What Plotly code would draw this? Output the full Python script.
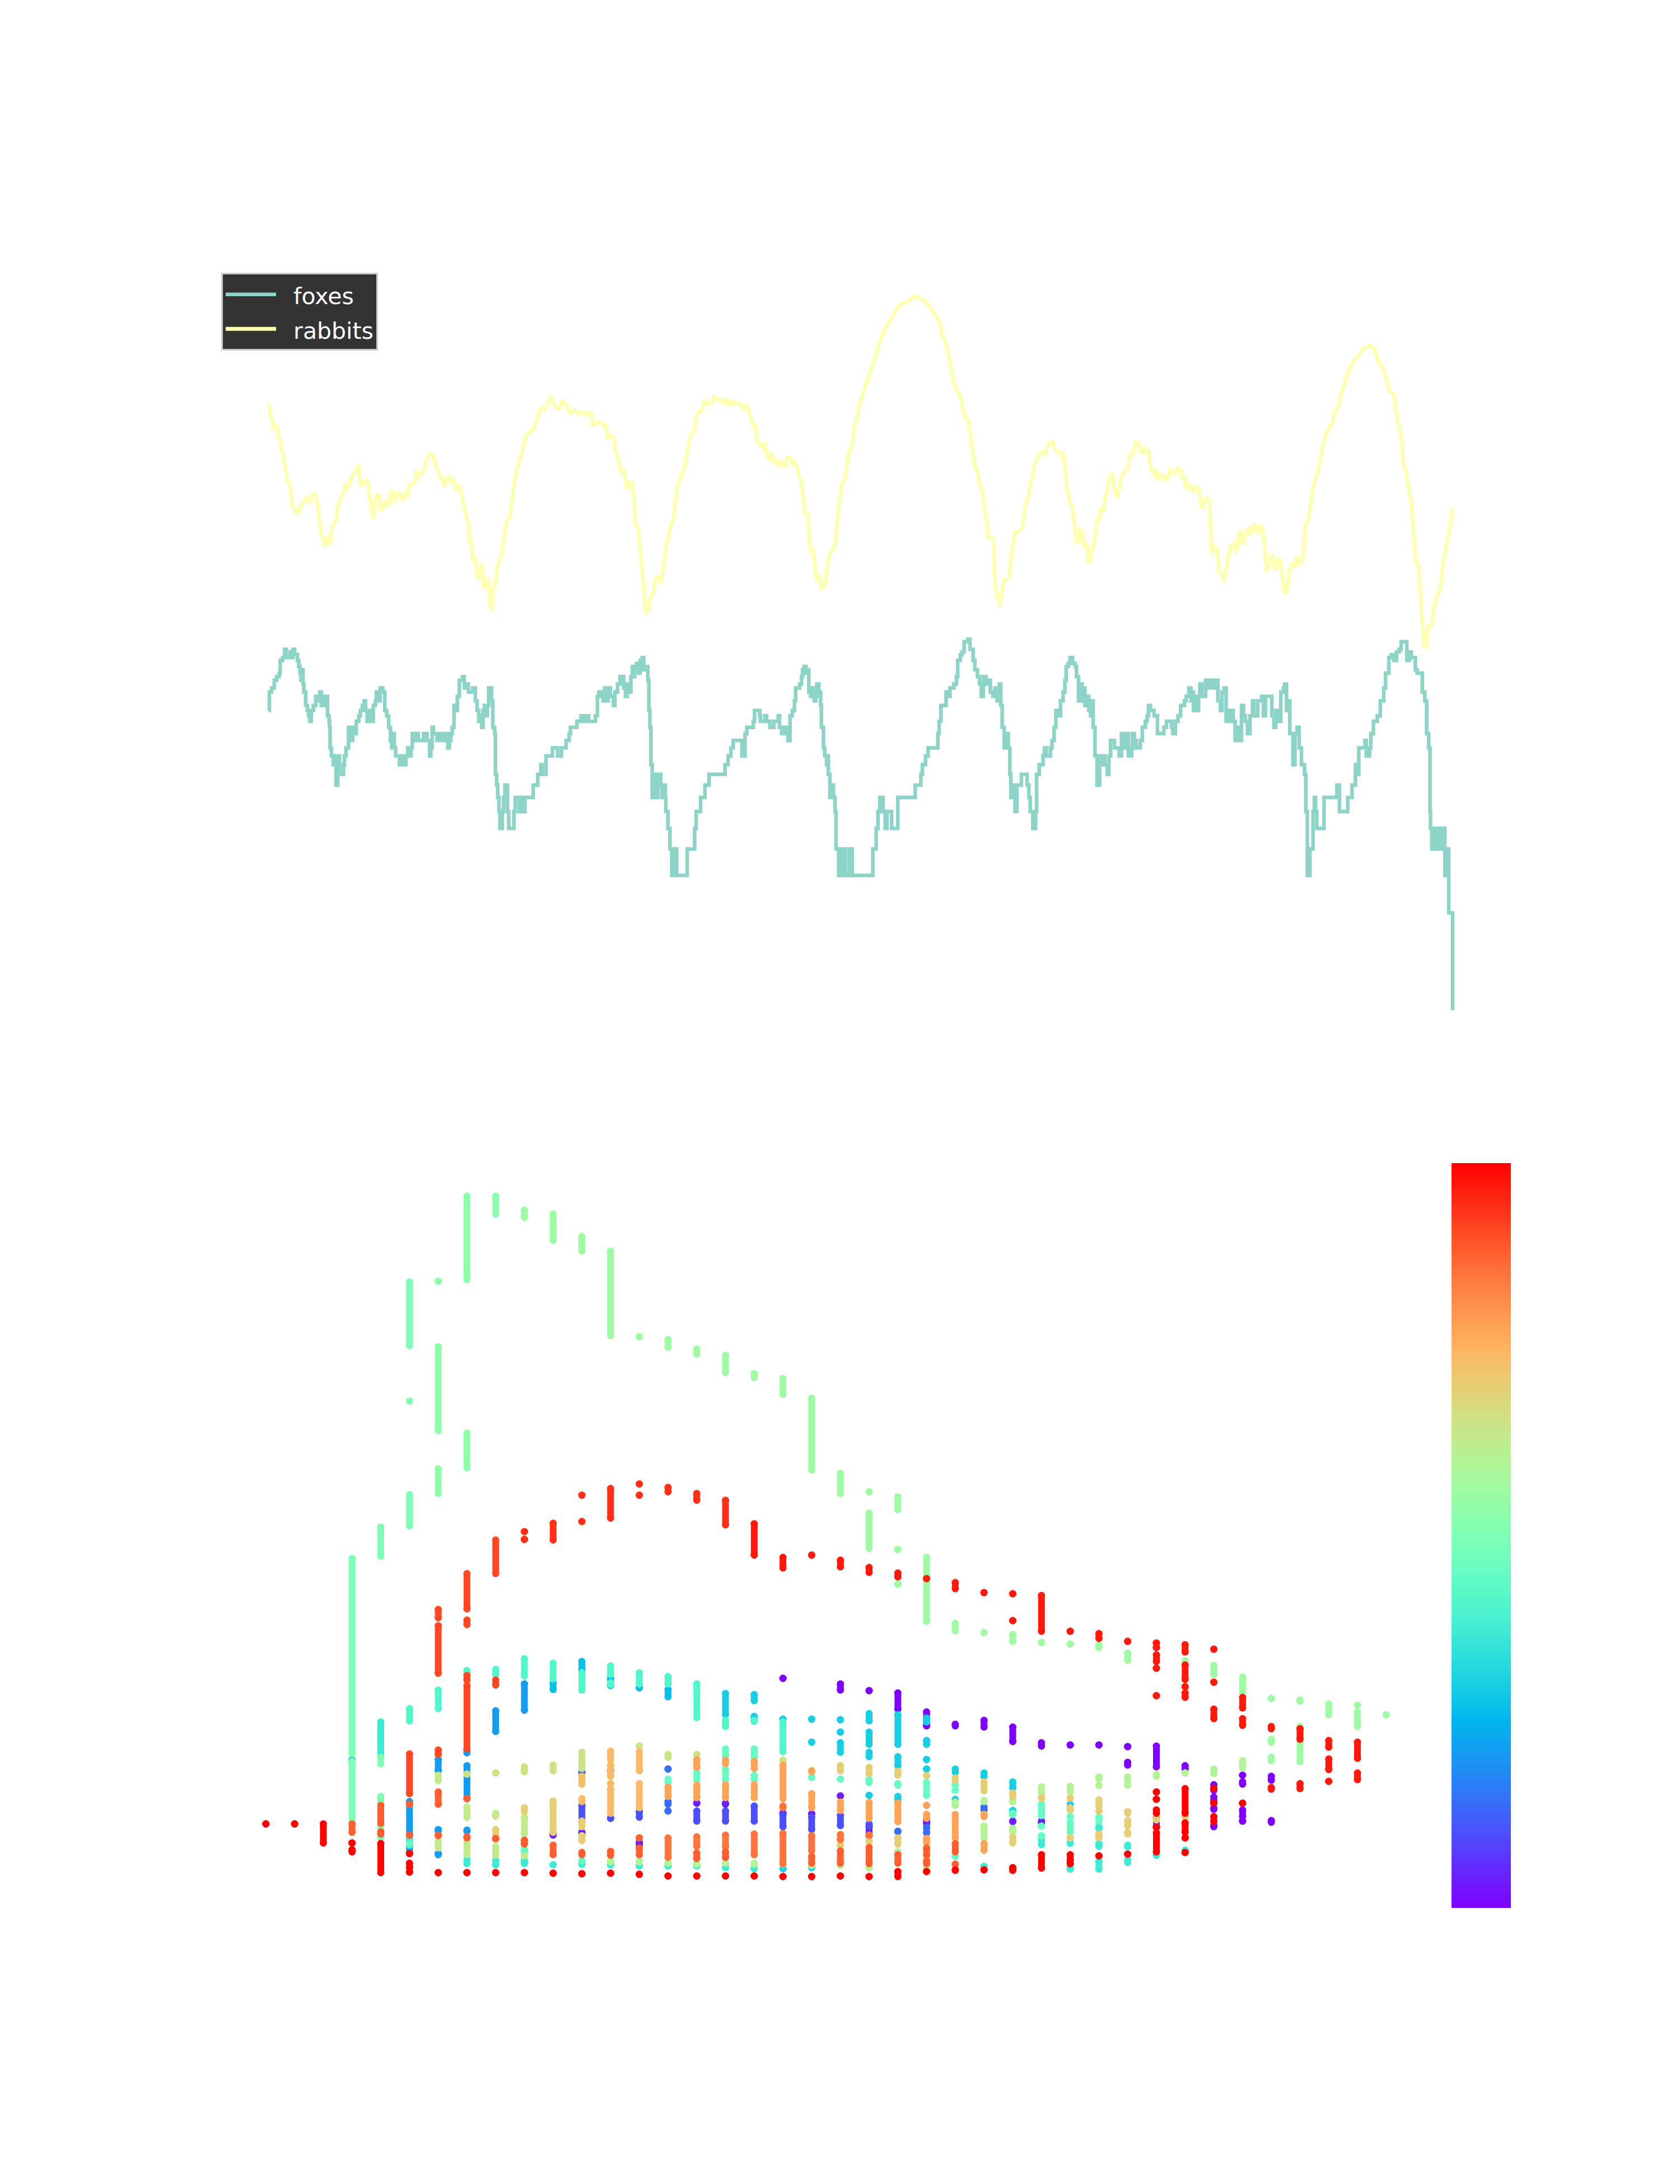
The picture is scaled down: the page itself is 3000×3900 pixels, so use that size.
import math
import plotly.graph_objects as go

# ---------- top chart: populations over time (log axis) ----------
SERIES_SECOND_START = 1546
SERIES_THIRD_START = 3093
LOG_UNIT = 824.6   # rabbit levels are log-abundance in 1/824.6 decades

foxes_first = [(22,18),(24,22),(33,23),(43,25),(52,26),(62,27),(66,31),(76,32),(83,35),(90,32),(105,34),(112,32),(116,35),(122,33),(133,31),(138,29),(143,27),(147,25),(150,28),(155,24),(158,22),(165,19),(172,18),(176,17),(181,16),(187,18),(195,19),(204,21),(212,20),(220,22),(226,19),(236,21),(250,17),(256,16),(258,15),(260,12),(265,11),(272,10),(278,11),(283,8),(290,11),(297,9),(312,10),(316,11),(322,12),(332,15),(338,13),(348,15),(357,14),(362,16),(372,17),(378,18),(386,19),(393,20),(398,18),(404,16),(416,18),(420,16),(428,19),(436,20),(440,22),(448,20),(455,23),(465,22),(473,18),(480,17),(488,15),(495,13),(500,12),(505,14),(510,12),(515,11),(530,10),(535,11),(548,10),(555,11),(562,12),(570,11),(575,12),(580,14),(590,13),(596,14),(603,13),(623,14),(637,13),(647,11),(652,12),(657,15),(662,14),(676,13),(682,14),(690,13),(695,14),(703,13),(708,14),(718,12),(724,13),(730,14),(735,15),(742,19),(750,18),(755,21),(763,25),(775,26),(782,23),(795,24),(798,22),(815,23),(825,20),(832,18),(838,16),(845,17),(850,15),(855,18),(860,19),(866,17),(872,19),(877,23),(888,20),(893,15),(900,14),(903,9),(908,8),(912,7),(917,6),(921,5),(930,6),(935,7),(940,8),(950,6),(955,5),(975,6),(980,7),(995,6),(1000,7),(1005,6),(1018,7),(1050,8),(1068,9),(1080,10),(1085,9),(1100,11),(1125,12),(1145,11),(1160,12),(1178,13),(1190,14),(1195,15),(1220,16),(1236,17),(1243,16),(1250,17),(1265,16),(1292,17),(1300,21),(1306,22),(1316,21),(1322,20),(1328,23),(1335,20),(1342,23),(1350,21),(1362,19),(1368,22),(1378,24),(1388,26),(1402,23),(1409,21),(1415,24),(1422,22),(1430,26),(1436,29),(1441,26),(1445,29),(1452,30),(1460,27),(1466,31),(1474,32),(1480,28),(1487,29),(1496,25),(1500,18),(1504,15),(1508,10),(1513,7),(1520,9),(1528,7),(1535,9),(1546,8)]
foxes_second = [(5,7),(10,8),(18,7),(20,6),(28,5),(36,4),(43,3),(55,4),(62,3),(103,4),(132,5),(138,6),(155,7),(172,8),(188,9),(250,10),(262,11),(273,12),(282,13),(316,11),(328,14),(335,15),(360,16),(365,18),(385,17),(388,16),(405,17),(412,16),(425,15),(440,16),(457,17),(462,15),(470,14),(482,15),(495,13),(503,17),(512,18),(520,20),(525,23),(540,24),(548,26),(552,28),(558,29),(565,27),(570,28),(576,22),(583,21),(590,23),(597,20),(603,21),(607,24),(615,22),(622,19),(625,15),(633,12),(638,11),(645,10),(650,11),(652,9),(658,7),(665,8),(672,7),(678,6),(682,4),(692,3),(706,4),(718,3),(733,4),(745,3),(825,4),(838,5),(845,6),(852,7),(865,6),(873,5),(880,6),(898,5),(922,7),(990,8),(1012,9),(1018,10),(1030,11),(1040,12),(1078,14),(1083,16),(1090,19),(1110,22),(1120,21),(1125,23),(1140,24),(1150,26),(1155,31),(1165,33),(1172,34),(1180,38),(1195,39),(1203,35),(1215,31),(1222,28),(1232,26),(1240,24),(1247,21),(1255,26),(1265,24),(1275,25),(1282,22),(1292,21),(1300,23),(1308,20),(1317,24),(1323,19),(1328,15),(1336,12),(1342,14),(1352,12),(1358,9),(1362,7),(1368,8),(1378,6),(1385,8),(1403,9),(1425,8),(1432,7),(1437,6),(1447,5),(1458,6),(1462,9),(1472,10),(1487,11),(1493,12),(1500,11),(1516,12),(1522,13),(1530,15),(1537,18),(1550,17)]
foxes_third = [(8,20),(18,22),(25,25),(30,29),(38,30),(45,32),(55,30),(65,29),(70,26),(78,20),(85,24),(92,20),(98,23),(103,19),(110,21),(118,18),(125,17),(130,20),(135,15),(142,11),(150,8),(160,11),(165,10),(172,11),(180,10),(190,9),(196,11),(203,13),(218,12),(236,11),(245,14),(255,12),(262,14),(272,11),(285,12),(288,14),(295,13),(302,12),(318,13),(326,15),(338,16),(345,17),(350,19),(358,18),(372,17),(385,14),(410,15),(420,16),(440,15),(445,14),(455,16),(465,17),(475,19),(490,20),(497,21),(507,23),(515,20),(522,22),(525,18),(530,21),(538,18),(545,21),(550,24),(557,21),(572,25),(580,23),(585,25),(592,23),(598,25),(605,23),(612,25),(620,20),(630,18),(636,22),(644,23),(652,16),(660,18),(665,16),(672,18),(680,16),(687,13),(695,15),(707,13),(712,19),(720,17),(727,16),(735,14),(745,17),(755,20),(760,17),(775,20),(790,21),(797,17),(805,21),(830,17),(838,15),(845,18),(855,16),(865,22),(875,23),(880,24),(887,18),(897,20),(900,14),(912,10),(920,14),(928,15),(936,12),(945,10),(957,9),(962,6),(968,3),(978,4),(990,6),(995,7),(1000,6),(1005,5),(1033,7),(1083,8),(1093,6),(1125,7),(1142,8),(1155,10),(1160,9),(1168,12),(1192,13),(1197,11),(1210,12),(1215,14),(1225,16),(1240,17),(1252,20),(1265,23),(1272,27),(1285,32),(1295,33),(1305,31),(1315,34),(1325,35),(1333,38),(1355,31),(1365,34),(1372,32),(1388,28),(1395,27),(1415,22),(1425,20),(1432,14),(1440,12),(1445,6),(1447,5),(1452,4),(1460,5),(1473,4),(1480,5),(1490,4),(1500,5),(1503,3),(1510,4),(1518,2),(1533,0)]

rabbits_first = [(22,2229),(25,2199),(30,2179),(36,2154),(40,2131),(47,2134),(50,2149),(55,2129),(60,2099),(68,2084),(72,2044),(80,2019),(85,1979),(92,1949),(97,1914),(103,1919),(108,1874),(113,1829),(120,1824),(125,1814),(128,1799),(135,1809),(142,1814),(148,1834),(158,1849),(165,1859),(172,1867),(177,1839),(185,1859),(193,1876),(203,1877),(210,1849),(215,1809),(220,1774),(225,1724),(232,1709),(240,1669),(245,1699),(252,1706),(262,1681),(268,1749),(275,1759),(283,1774),(290,1824),(300,1859),(310,1874),(318,1909),(328,1901),(340,1929),(350,1954),(360,1964),(372,1989),(378,1919),(382,1906),(392,1924),(400,1931),(408,1919),(413,1859),(420,1849),(425,1784),(430,1789),(436,1859),(445,1874),(452,1869),(458,1811),(470,1829),(480,1854),(490,1829),(497,1891),(505,1879),(515,1844),(522,1879),(532,1881),(542,1849),(552,1884),(560,1864),(568,1911),(580,1914),(592,1929),(598,1971),(607,1949),(622,1959),(630,1989),(638,2019),(652,2031),(663,2024),(672,1989),(682,1954),(690,1934),(698,1934),(705,1904),(712,1934),(720,1944),(728,1924),(740,1939),(752,1889),(762,1914),(770,1879),(778,1844),(785,1824),(792,1779),(800,1749),(802,1694),(810,1689),(815,1614),(825,1629),(832,1559),(842,1544),(850,1609),(858,1509),(866,1519),(875,1551),(882,1459),(886,1424),(892,1444),(896,1509),(905,1544),(912,1599),(925,1634),(933,1689),(940,1744),(948,1774),(960,1784),(968,1859),(978,1929),(990,1989),(1005,2029),(1015,2074),(1025,2109),(1038,2121),(1050,2124),(1060,2159),(1070,2179),(1080,2211),(1095,2204),(1107,2234),(1120,2251),(1130,2229),(1140,2212),(1152,2209),(1160,2237),(1170,2239),(1180,2219),(1195,2191),(1213,2204),(1225,2189),(1245,2194),(1255,2184),(1262,2194),(1275,2192),(1282,2146),(1295,2151),(1310,2157),(1320,2144),(1330,2146),(1340,2097),(1350,2104),(1364,2097),(1370,2049),(1382,2009),(1392,1964),(1403,1969),(1415,1894),(1425,1924),(1433,1924),(1442,1864),(1448,1759),(1458,1744),(1465,1669),(1473,1599),(1480,1519),(1484,1439),(1490,1417),(1500,1424),(1505,1474),(1518,1489),(1525,1544),(1535,1559),(1545,1529),(1555,1574),(1560,1629),(1568,1689)]
rabbits_second = [(25,1679),(35,1739),(48,1779),(55,1839),(65,1899),(80,1949),(95,1989),(105,2049),(118,2109),(130,2119),(140,2179),(150,2199),(162,2204),(170,2239),(185,2227),(200,2234),(208,2254),(222,2247),(242,2231),(252,2249),(262,2219),(275,2244),(285,2224),(300,2234),(315,2219),(322,2201),(333,2227),(345,2194),(358,2144),(368,2144),(375,2084),(385,2069),(395,2059),(405,2079),(412,2029),(423,2007),(432,2037),(445,1994),(458,2009),(462,1984),(472,2001),(485,1981),(492,2019),(505,2014),(512,1987),(520,2001),(530,1984),(538,1947),(548,1919),(555,1859),(562,1804),(572,1794),(578,1724),(583,1649),(592,1664),(600,1599),(608,1539),(618,1564),(625,1511),(632,1511),(640,1529),(648,1589),(655,1639),(665,1654),(678,1679),(685,1759),(695,1829),(705,1919),(718,1939),(730,2029),(745,2069),(752,2134),(765,2179),(775,2229),(790,2279),(805,2319),(820,2369),(835,2409),(850,2464),(865,2504),(885,2539),(905,2574),(925,2609),(945,2619),(965,2627),(985,2647),(1000,2641),(1020,2634),(1045,2609),(1065,2574),(1080,2554),(1095,2499),(1110,2459),(1120,2419),(1130,2369),(1138,2314),(1150,2289),(1165,2259),(1170,2229),(1182,2179),(1195,2164),(1205,2109),(1212,2049),(1222,1989),(1235,1949),(1240,1919),(1252,1884),(1260,1809),(1268,1774),(1272,1709),(1285,1709),(1295,1699),(1298,1564),(1305,1479),(1315,1484),(1320,1441),(1328,1509),(1338,1544),(1355,1549),(1365,1649),(1380,1729),(1395,1734),(1408,1749),(1415,1809),(1430,1869),(1445,1939),(1455,1994),(1470,2029),(1485,2039),(1495,2029),(1505,2064),(1522,2081),(1535,2049)]
rabbits_third = [(0,2044),(10,2026),(17,2037),(25,1989),(32,1909),(37,1874),(45,1844),(55,1829),(60,1764),(68,1699),(78,1684),(85,1739),(92,1734),(100,1669),(110,1689),(118,1604),(128,1644),(140,1689),(150,1779),(160,1779),(165,1824),(175,1809),(182,1859),(195,1919),(208,1959),(217,1899),(230,1864),(238,1919),(245,1949),(258,1964),(268,1979),(278,2029),(290,2029),(300,2077),(312,2074),(320,2044),(328,2031),(335,2054),(350,2044),(360,1979),(372,1949),(378,1974),(385,1929),(400,1959),(412,1934),(422,1934),(435,1971),(450,1954),(465,1979),(478,1964),(480,1939),(492,1941),(497,1894),(512,1914),(525,1884),(538,1904),(548,1894),(550,1859),(560,1819),(568,1854),(578,1861),(587,1854),(592,1759),(597,1644),(610,1669),(618,1659),(625,1574),(638,1564),(645,1534),(652,1589),(665,1649),(670,1674),(683,1684),(692,1644),(697,1699),(705,1737),(715,1684),(722,1684),(730,1744),(738,1714),(745,1751),(752,1724),(765,1764),(777,1719),(790,1757),(798,1724),(803,1659),(810,1574),(820,1604),(830,1644),(843,1579),(855,1624),(863,1619),(868,1569),(878,1489),(890,1504),(898,1584),(912,1609),(920,1589),(926,1634),(940,1604),(952,1624),(960,1759),(972,1774),(985,1859),(992,1909),(1005,1949),(1015,1989),(1027,2059),(1040,2109),(1052,2134),(1065,2149),(1075,2199),(1090,2219),(1100,2269),(1115,2319),(1130,2359),(1145,2389),(1160,2407),(1175,2429),(1192,2447),(1215,2454),(1230,2439),(1245,2389),(1260,2374),(1275,2329),(1285,2279),(1305,2264),(1313,2199),(1325,2139),(1335,2089),(1342,1989),(1352,1964),(1360,1909),(1372,1849),(1380,1749),(1390,1609),(1400,1599),(1408,1469),(1415,1399),(1423,1279),(1430,1284),(1440,1364),(1452,1364),(1458,1424),(1470,1479),(1485,1504),(1495,1599),(1505,1649),(1520,1729),(1530,1799),(1535,1821)]

# ---------- bottom chart: runs of points per column, as (column, low, high) ----------
purple = [(18,410,410),(20,389,400),(21,388,388),(22,355,384),(23,325,350),(24,325,328),(25,323,335),(26,297,323),(27,289,295),(28,291,291),(29,291,291),(30,288,288),(30,255,260),(31,252,289),(32,248,254),(33,210,220),(33,190,198),(33,176,178),(33,145,147),(34,237,237),(34,221,225),(34,163,175),(34,155,155),(35,228,235),(35,153,156)]
deep_violet = [(10,130,132),(11,132,135),(13,112,117),(15,187,187),(16,185,187),(18,169,169),(19,168,168),(20,200,200),(21,129,146),(26,154,155),(27,152,155),(31,144,160),(23,150,155)]
violet = [(11,153,183),(12,160,160),(13,162,172),(15,155,173),(16,155,173),(17,155,182),(18,145,165),(19,140,162),(20,147,165),(21,146,150)]
royal = [(11,242,242),(12,245,245),(14,248,248),(14,185,190),(14,173,173),(22,136,137),(23,134,144),(25,175,180)]
azure = [(5,99,190),(6,245,265),(6,137,140),(6,95,97),(7,277,282),(7,195,254),(7,137,139),(8,315,352),(9,353,400)]
sky = [(10,390,402),(11,425,440),(12,397,410),(13,393,393),(14,377,390)]
cyan = [(3,258,265),(16,345,383),(17,370,381),(17,340,342),(18,337,337),(18,70,70),(19,337,337),(19,296,296),(19,72,72),(20,336,336),(20,314,314),(20,278,295),(21,334,347),(21,292,314),(21,270,278),(21,201,201),(22,292,345),(22,254,270),(22,192,199),(23,332,339),(23,292,299),(23,265,265),(23,248,248),(24,242,248),(24,184,194),(25,235,241),(26,214,225),(26,167,174),(27,165,184),(28,175,185)]
teal = [(4,275,332),(5,112,122),(7,79,87),(8,77,85),(9,79,85),(10,77,77),(11,78,78),(12,77,77),(13,75,75),(14,75,75),(15,75,75),(16,72,72),(17,70,70),(25,74,74),(27,113,123),(28,115,117),(28,69,72),(29,142,145),(29,110,115),(29,69,83),(30,109,112),(30,81,85),(31,94,94),(32,103,103)]
aqua = [(5,334,356),(6,356,389),(7,419,424),(8,417,426),(9,414,445),(10,409,437),(11,389,420),(12,417,432),(12,399,402),(13,400,420),(14,400,413),(15,340,400),(16,324,335),(17,333,335),(18,279,332)]
mint = [(5,115,115),(9,100,104),(11,84,84),(14,225,230),(15,229,242),(16,272,284),(16,229,248),(17,269,284),(17,229,237),(19,233,233),(20,230,230),(21,224,229),(22,219,222),(23,201,224),(24,220,220),(24,210,210),(24,92,92),(26,167,169),(27,165,184),(27,146,146),(27,129,129),(28,163,163),(28,135,153),(29,155,162)]
seafoam = [(3,276,624),(3,152,262),(4,628,680),(4,257,269),(4,125,199),(5,1004,1118),(5,905,905),(5,682,738)]
spring = [(6,852,1002),(6,1119,1119),(6,740,784),(7,1122,1271),(7,786,848),(8,1239,1271)]
pale_green = [(9,1233,1246),(10,1192,1239),(11,1173,1199),(12,1022,1173),(13,1020,1020),(14,1001,1015),(15,989,998),(16,956,987),(17,947,954),(18,917,945),(19,782,910),(20,740,776),(21,743,743),(21,642,705),(22,711,734),(22,640,640),(22,578,578),(23,512,626),(24,495,508),(25,492,492),(26,476,488),(27,474,474),(28,471,471),(29,465,469),(30,442,455),(32,441,441),(33,417,433),(34,385,412),(35,374,374),(35,296,301),(35,263,269),(36,369,371),(36,261,324),(37,345,364),(38,362,362),(38,324,350),(39,345,345)]
lime = [(24,183,189),(25,190,192),(25,125,146),(26,189,192),(26,136,142),(27,205,216),(28,207,217),(29,230,234),(29,219,219),(30,219,234),(31,235,238),(32,241,241),(33,240,248),(34,250,263),(12,82,84),(13,82,84),(14,80,80),(15,78,78),(16,80,80),(17,78,80),(18,78,78),(19,76,76),(20,76,76),(21,72,72),(22,100,100),(23,72,72)]
pear = [(6,107,119),(6,227,237),(7,95,117),(7,162,180),(8,94,109),(8,164,169),(9,93,93),(9,132,162)]
khaki = [(7,239,239),(8,241,241),(9,243,252),(10,245,255),(11,249,278),(13,289,289),(14,269,274),(15,274,274),(18,262,264)]
tan = [(8,122,140),(9,172,179),(10,135,191),(11,120,129),(11,145,155),(20,112,113),(20,245,254),(21,240,251),(21,117,119),(22,237,244),(22,114,125),(23,236,236),(24,228,232),(25,209,225),(26,199,205),(26,116,126),(27,195,197),(28,196,196),(28,175,179),(28,125,125),(29,182,193),(29,173,173),(29,125,132),(30,169,172),(30,147,156),(30,132,135),(31,157,159),(32,163,163)]
sand = [(11,221,235),(11,190,195),(12,265,280),(12,235,255),(12,222,222),(12,169,212),(13,245,279),(13,179,222)]
apricot = [(14,199,216),(15,251,265),(15,197,219),(16,258,264),(16,197,220),(17,249,262),(17,197,220),(18,195,255),(19,243,245),(19,179,204),(20,174,189),(21,160,188),(22,154,187),(23,183,183),(23,160,167),(23,117,124),(24,125,167),(25,163,167),(25,103,115)]
coral = [(14,90,125),(15,110,127),(16,109,130),(17,95,132),(18,79,133),(18,179,182),(19,102,129),(20,122,131),(21,130,130)]
orange = [(3,135,150),(4,151,183),(4,132,136),(5,185,185),(5,130,130),(6,185,207),(6,129,130),(7,195,195),(7,125,127),(8,124,124),(9,114,121),(10,95,112),(11,95,99),(12,94,101),(13,95,107),(13,125,125),(15,88,98),(16,90,100),(19,80,92),(20,80,102),(21,79,108),(22,80,95),(23,94,107),(23,79,84),(24,100,115),(24,78,78)]
vermilion = [(5,204,275),(6,274,282),(6,518,533),(6,419,504),(7,284,397),(7,407,415),(7,534,597),(7,506,514),(8,398,407),(8,597,657)]
scarlet = [(9,672,672),(9,658,658),(10,657,687),(11,737,737),(11,690,690),(12,696,749),(13,757,757),(13,737,737),(14,743,751),(15,728,740),(16,684,728)]
crimson = [(17,630,686),(18,607,626),(19,630,630),(20,609,621),(21,599,608),(22,591,598),(23,588,588),(24,570,581),(25,563,563),(26,561,561),(26,513,513),(27,494,558),(28,494,494),(29,481,490),(30,476,476),(31,473,473),(31,465,465),(31,440,452),(31,428,428),(31,379,379),(32,457,470),(32,408,434),(32,395,395),(32,376,384),(33,462,462),(33,403,403),(33,338,355),(34,357,376),(34,326,338),(35,320,324),(35,212,215),(36,301,320),(36,213,222),(37,287,299),(37,247,266),(37,226,226),(38,267,296),(38,229,241)]
red = [(0,150,150),(1,150,150),(2,116,150),(3,116,116),(3,100,104),(4,63,115),(5,97,97),(5,72,80),(5,64,64),(6,63,63),(7,63,63),(8,63,63),(9,63,63),(10,62,62),(11,61,61),(12,62,62),(13,60,60),(14,57,57),(15,57,57),(16,57,57),(17,57,57),(18,56,56),(19,56,56),(20,57,57),(21,56,56),(22,56,65),(23,65,65),(24,67,68),(25,68,68),(26,67,72),(27,71,95),(28,85,95),(28,79,79),(29,93,93),(30,96,96),(31,207,207),(31,194,194),(31,169,175),(31,144,144),(31,100,134),(32,169,213),(32,135,152),(32,125,125),(32,99,99),(33,213,213),(33,187,187),(33,154,163),(34,187,187)]

dash_groups = [(0.0,purple),(0.04,deep_violet),(0.1,violet),(0.14,royal),(0.21,azure),(0.27,sky),(0.3,cyan),(0.37,teal),(0.41,aqua),(0.45,mint),(0.5,seafoam),(0.53,spring),(0.56,pale_green),(0.6,lime),(0.63,pear),(0.65,khaki),(0.7,tan),(0.74,sand),(0.78,apricot),(0.85,coral),(0.88,orange),(0.91,vermilion),(0.94,scarlet),(0.97,crimson),(1.0,red)]

FOX_COLOR = "#8dd3c7"
RABBIT_COLOR = "#ffffb3"
W, H = 3000, 3900
PAGE = 8  # the page's own margin around the figure


def rainbow(c):
    r = min(1, abs(2 * c - 0.5))
    g = math.sin(math.pi * c)
    b = math.cos(math.pi * c / 2)
    return "rgb(%d,%d,%d)" % (round(r * 255), round(g * 255), round(b * 255))


def px_x(p):
    return (p - PAGE) / W


def px_y(p):
    return (H - (p - PAGE)) / H


foxes_all = foxes_first + [(t + SERIES_SECOND_START, v) for t, v in foxes_second] + [(t + SERIES_THIRD_START, v) for t, v in foxes_third]
rabbits_all = rabbits_first + [(t + SERIES_SECOND_START, v) for t, v in rabbits_second] + [(t + SERIES_THIRD_START, v) for t, v in rabbits_third]

Y_FLOOR = 0.69  # zero counts sit on the floor of the log axis
label_size = '<span style="font-size:41px">\u00a0\u00a0%s</span>'

fig = go.Figure()
fig.add_trace(go.Scatter(
    x=[p[0] for p in foxes_all], y=[max(p[1], Y_FLOOR) for p in foxes_all],
    mode="lines", name=label_size % "foxes", line=dict(color=FOX_COLOR, width=6.5, shape="hv"),
    xaxis="x", yaxis="y", cliponaxis=False,
))
fig.add_trace(go.Scatter(
    x=[p[0] for p in rabbits_all], y=[10 ** (p[1] / LOG_UNIT) for p in rabbits_all],
    mode="lines", name=label_size % "rabbits", line=dict(color=RABBIT_COLOR, width=7),
    xaxis="x", yaxis="y", cliponaxis=False,
))

for level, runs in dash_groups:
    xs, ys, cs = [], [], []
    for col, lo, hi in runs:
        xs += [col, col, None]
        ys += [lo, hi, None]
        cs += [level, level, level]
    fig.add_trace(go.Scatter(
        x=xs, y=ys, mode="lines+markers", showlegend=False,
        line=dict(color=rainbow(level), width=12),
        marker=dict(size=13, color=cs, coloraxis="coloraxis", line=dict(width=0)),
        xaxis="x2", yaxis="y2", cliponaxis=False,
    ))

stops = [[i / 40, rainbow(i / 40)] for i in range(41)]
hidden = dict(visible=False, showgrid=False, zeroline=False)

fig.update_layout(
    width=W, height=H, margin=dict(l=0, r=0, t=0, b=0),
    paper_bgcolor="white", plot_bgcolor="white",
    font=dict(family="DejaVu Sans", color="white", size=40),
    xaxis=dict(domain=[px_x(400), px_x(2700)], range=[-152.5, 4857], **hidden),
    yaxis=dict(domain=[px_y(1804), px_y(400)], type="log", range=[-0.1586, 3.55], **hidden),
    xaxis2=dict(domain=[px_x(400), px_x(2560)], range=[-1.458, 40.65], anchor="y2", **hidden),
    yaxis2=dict(domain=[px_y(3407), px_y(2077)], range=[0, 1330], anchor="x2", **hidden),
    coloraxis=dict(
        cmin=0, cmax=1, colorscale=stops,
        colorbar=dict(
            x=px_x(2592), xanchor="left", xpad=0, ypad=0,
            y=px_y((3407 + 2077) / 2), yanchor="middle",
            lenmode="pixels", len=1330, thicknessmode="pixels", thickness=106,
            outlinewidth=0, borderwidth=0, ticks="", showticklabels=False,
        ),
    ),
    legend=dict(
        x=px_x(395), y=px_y(487), xanchor="left", yanchor="top",
        bgcolor="#333333", bordercolor="#cccccc", borderwidth=3,
        font=dict(family="DejaVu Sans", size=45, color="white"),
        itemwidth=90, tracegroupgap=0,
        entrywidth=165, entrywidthmode="pixels",
    ),
    showlegend=True,
)

fig.write_html("out.html")
